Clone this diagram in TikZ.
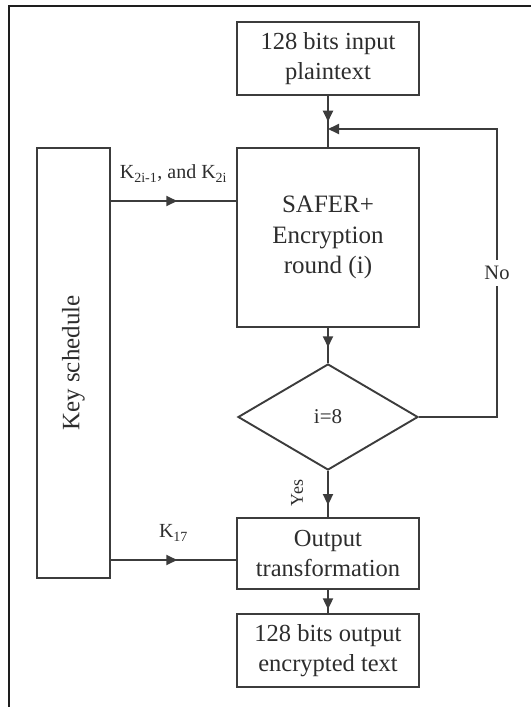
\documentclass[tikz,border=0pt]{standalone}
\usepackage{fontspec}
\setmainfont{Liberation Serif}
\usetikzlibrary{calc,shapes,shapes.geometric,arrows.meta,positioning,decorations.markings}
\definecolor{Line}{RGB}{60,60,60}
\definecolor{Frame}{RGB}{30,30,30}
\definecolor{Ink}{RGB}{45,45,45}
\tikzset{tip/.tip={Triangle[length=11pt, width=10pt]}}
\tikzset{midarrow/.style={decoration={markings, mark=at position #1 with {\arrow{tip}}}, postaction={decorate}}}

\begin{document}
\begin{tikzpicture}[x=1pt, y=-1pt]
			\tikzstyle{block}=[draw=Line, line width=1.9pt, shape=rectangle, minimum width=182pt, align=center, text=Ink, font=\fontsize{24.5}{29.5}\selectfont];
			\tikzstyle{decision}=[draw=Line, line width=1.9pt, shape=diamond, inner sep=0pt, minimum width=180pt, minimum height=106pt, text=Ink, font=\fontsize{21}{25}\selectfont];
			\tikzstyle{conn}=[draw=Line, line width=1.9pt];
			\tikzstyle{lbl}=[text=Ink, font=\fontsize{20}{24}\selectfont, inner sep=0pt];
			\useasboundingbox (0,0) rectangle (531,707);
			\draw [Frame, line width=1.3pt] (9,707) -- (9,6) -- (531,6);
			% boxes
			\node [block, minimum height=73pt] (in) at (328, 58.5) {128 bits input\\plaintext};
			\node [block, minimum height=179pt, font=\fontsize{25}{30.5}\selectfont] (safer) at (328, 237.5) {SAFER+\\Encryption\\round (i)};
			\node [decision] (dec) at (328, 417) {i=8};
			\node [block, minimum height=71pt] (out) at (328, 553.5) {Output\\transformation};
			\node [block, minimum height=73pt] (res) at (328, 650.5) {128 bits output\\encrypted text};
			\node [block, rotate=90, minimum width=430pt, minimum height=73pt, font=\fontsize{25}{30}\selectfont] (key) at (73.5, 363) {Key schedule};
			% helper points
			\coordinate (join) at (328, 129);
			\coordinate (loop) at (497, 129);
			\coordinate (ktop) at (0, 201);
			\coordinate (kbot) at (0, 560);
			% connectors
			\draw [conn, midarrow=0.78] (in) -- (join);
			\draw [conn] (join) -- (safer);
			\draw [conn, -tip] (dec.east) -| node [lbl, pos=0.75, fill=white, inner ysep=6pt, font=\fontsize{20.5}{24}\selectfont] {No} (loop) -- (join);
			\draw [conn, midarrow=0.55] (safer) -- (dec);
			\draw [conn, midarrow=0.74] (dec) -- (out);
			\path ($(dec.south)!0.48!(out.north) + (-31,0)$) node [lbl, rotate=90, font=\fontsize{18}{22}\selectfont] (yes) {Yes};
			\draw [conn, midarrow=0.84] (out) -- (res);
			\draw [conn, midarrow=0.53] (ktop -| key.south) -- node [lbl, above=18pt] {K\textsubscript{2i-1}, and K\textsubscript{2i}} (ktop -| safer.west);
			\draw [conn, midarrow=0.53] (kbot -| key.south) -- node [lbl, above=18pt] {K\textsubscript{17}} (kbot -| out.west);
		\end{tikzpicture}
\end{document}
